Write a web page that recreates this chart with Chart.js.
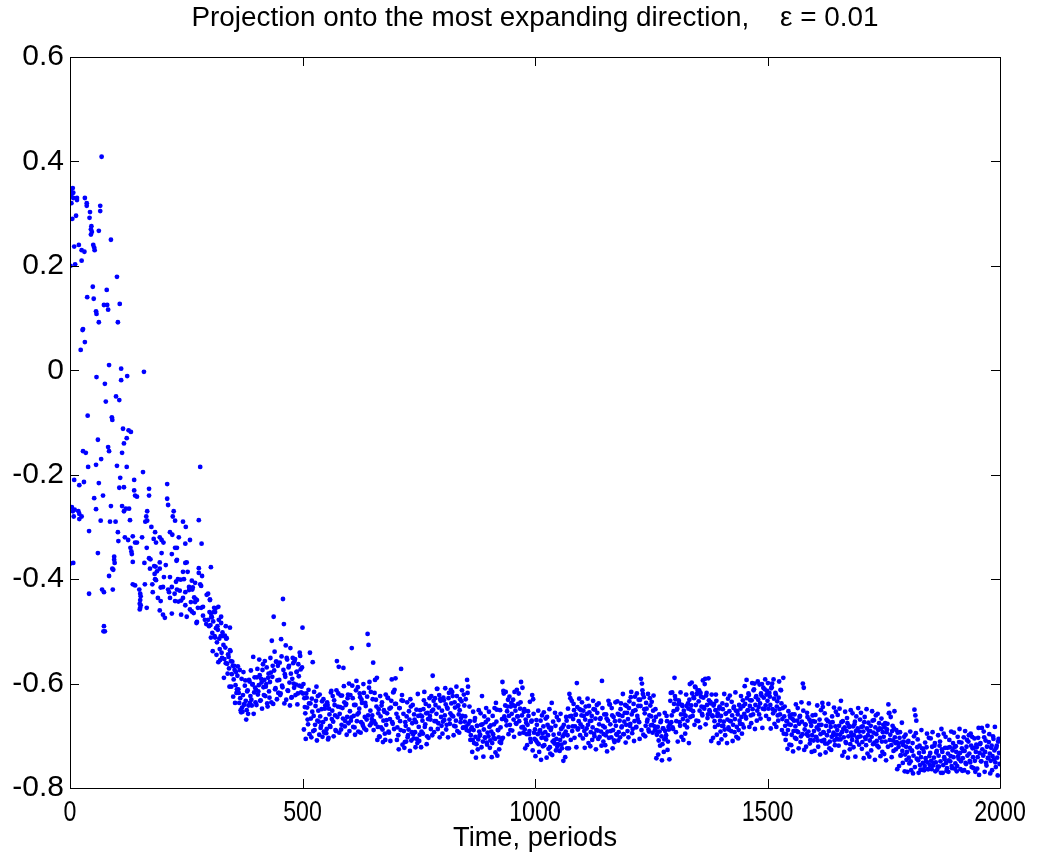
<!DOCTYPE html>
<html>
<head>
<meta charset="utf-8">
<script src="https://cdn.jsdelivr.net/npm/chart.js@4.4.1/dist/chart.umd.min.js"></script>
<style>
html,body{margin:0;padding:0;background:#fff;}
#wrap{width:1039px;height:861px;position:relative;}
</style>
</head>
<body>
<div id="wrap"><canvas id="c" width="1039" height="861"></canvas></div>
<script>
// ---- Data ----
const titleText = "Projection onto the most expanding direction,    \u03b5 = 0.01";
const xAxisLabel = "Time, periods";
const xTicks = [0, 500, 1000, 1500, 2000];
const yTicks = [-0.8, -0.6, -0.4, -0.2, 0, 0.2, 0.4, 0.6];

// early transient scatter: (time, value) pairs
const earlyT = [68,6,7,7,15,15,32,36,36,65,65,43,13,42,46,45,47,45,62,88,19,25,31,50,52,53,25,11,101,49,79,37,51,107,73,80,82,56,57,62,103,28,
1,2,3,5,1,9,1,4,6,8,9,
27,32,23,84,110,159,57,110,123,75,99,106,77,38,90,91,114,126,131,122,60,116,82,84,28,34,112,67,56,39,101,122,157,108,30,20,62,138,106,116,170,170,138,140,144,71,52,56,88,112,116,120,127,10,18,20,25,20,166,164,162,166,66,86,98,129,41,103,175,183,104,118,125,135,140,144,155,180,185,130,132,133,165,60,95,95,96,7,135,160,170,173,172,91,93,84,181,184,187,182,183,185,135,140,161,41,69,73,92,149,151,152,151,150,152,151,150,165,177,178,189,73,72,75,
280,209,209,211,223,221,226,243,249,277,193,201,197,215,220,234,258,248,283,226,230,197,219,229,230,248,251,193,206,303,277,193,243,253,277,284,202,215,232,238,245,262,269,280,282,228,200,195,219,256,264,263,230,236,225,248,256,211,213,215,267,273,270,294,297,301,226,233,239,260,269,195,243,248,258,262,266,275,286,282,319,193,200,204,219,239,251,273,272,286,290,293,297,299,303,312,325,335,344];
const earlyY = [0.409,0.349,0.34,0.33,0.33,0.326,0.33,0.32,0.315,0.315,0.305,0.303,0.296,0.292,0.276,0.27,0.265,0.26,0.267,0.25,0.24,0.23,0.227,0.24,0.235,0.23,0.21,0.203,0.179,0.16,0.154,0.14,0.137,0.127,0.125,0.125,0.116,0.113,0.108,0.092,0.092,0.079,
0.345,0.335,0.32,0.29,0.2,0.237,-0.37,-0.262,-0.27,-0.28,-0.21,
0.077,0.054,0.039,0.01,0.003,-0.003,-0.013,-0.019,-0.011,-0.026,-0.05,-0.057,-0.06,-0.087,-0.09,-0.095,-0.112,-0.115,-0.118,-0.13,-0.133,-0.14,-0.147,-0.155,-0.155,-0.158,-0.158,-0.17,-0.181,-0.185,-0.183,-0.185,-0.195,-0.206,-0.214,-0.22,-0.216,-0.21,-0.225,-0.224,-0.227,-0.24,-0.23,-0.24,-0.242,-0.24,-0.245,-0.266,-0.26,-0.26,-0.27,-0.265,-0.265,-0.267,-0.27,-0.275,-0.28,-0.285,-0.27,-0.28,-0.29,-0.288,-0.288,-0.29,-0.29,-0.287,-0.308,-0.31,-0.3,-0.31,-0.327,-0.32,-0.325,-0.318,-0.33,-0.33,-0.32,-0.323,-0.33,-0.34,-0.347,-0.352,-0.34,-0.35,-0.357,-0.363,-0.369,-0.369,-0.367,-0.369,-0.36,-0.362,-0.38,-0.38,-0.382,-0.394,-0.375,-0.376,-0.385,-0.39,-0.4,-0.402,-0.41,-0.412,-0.41,-0.428,-0.42,-0.425,-0.42,-0.42,-0.428,-0.433,-0.44,-0.447,-0.45,-0.455,-0.458,-0.455,-0.41,-0.425,-0.436,-0.49,-0.5,-0.5,
-0.185,-0.218,-0.246,-0.258,-0.27,-0.28,-0.288,-0.29,-0.3,-0.287,-0.32,-0.33,-0.325,-0.31,-0.315,-0.32,-0.325,-0.332,-0.332,-0.34,-0.34,-0.35,-0.352,-0.365,-0.363,-0.369,-0.368,-0.368,-0.373,-0.377,-0.379,-0.38,-0.386,-0.386,-0.388,-0.394,-0.396,-0.396,-0.4,-0.401,-0.4,-0.403,-0.407,-0.41,-0.413,-0.405,-0.415,-0.416,-0.415,-0.415,-0.416,-0.42,-0.42,-0.422,-0.428,-0.425,-0.421,-0.42,-0.425,-0.436,-0.435,-0.44,-0.438,-0.43,-0.428,-0.44,-0.442,-0.443,-0.441,-0.444,-0.444,-0.442,-0.436,-0.45,-0.458,-0.462,-0.465,-0.455,-0.453,-0.455,-0.453,-0.46,-0.468,-0.474,-0.466,-0.468,-0.472,-0.482,-0.484,-0.47,-0.478,-0.486,-0.478,-0.49,-0.466,-0.463,-0.472,-0.49,-0.493];

// settled part, even periods: one value every lateStep periods from lateStart
const lateStart = 300;
const lateStep = 2;
const lateY = [
-0.463,-0.488,-0.472,-0.503,-0.481,-0.455,-0.512,-0.494,-0.521,-0.497,-0.478,-0.534,-0.509,-0.541,-0.502,-0.526,-0.553,-0.531,-0.514,-0.562,-0.544,-0.571,-0.536,-0.557,-0.582,
-0.566,-0.592,-0.574,-0.603,-0.618,-0.585,-0.611,-0.637,-0.628,-0.655,-0.646,-0.622,-0.641,-0.604,-0.633,-0.651,-0.613,-0.642,-0.596,-0.624,-0.631,-0.602,-0.549,-0.617,-0.608,
-0.612,-0.588,-0.621,-0.603,-0.584,-0.632,-0.598,-0.574,-0.607,-0.593,-0.624,-0.601,-0.638,-0.589,-0.615,-0.597,-0.579,-0.518,-0.566,-0.472,-0.539,-0.609,-0.558,-0.594,-0.618,
-0.593,-0.622,-0.515,-0.604,-0.438,-0.486,-0.582,-0.527,-0.551,-0.613,-0.569,-0.598,-0.532,-0.627,-0.591,-0.561,-0.608,-0.553,-0.602,-0.577,-0.619,-0.586,-0.541,-0.573,-0.606,
-0.493,-0.601,-0.628,-0.657,-0.619,-0.646,-0.678,-0.638,-0.541,-0.667,-0.629,-0.559,-0.662,-0.689,-0.643,-0.606,-0.671,-0.652,-0.698,-0.663,-0.681,-0.634,-0.674,-0.692,-0.648,
-0.668,-0.687,-0.641,-0.704,-0.659,-0.683,-0.614,-0.652,-0.673,-0.632,-0.661,-0.691,-0.557,-0.644,-0.568,-0.658,-0.623,-0.679,-0.647,-0.570,-0.636,-0.672,-0.639,-0.664,-0.621,
-0.600,-0.653,-0.671,-0.532,-0.628,-0.662,-0.684,-0.641,-0.595,-0.659,-0.692,-0.648,-0.626,-0.674,-0.637,-0.681,-0.618,-0.664,-0.643,-0.669,-0.505,-0.526,-0.597,-0.652,-0.676,
-0.661,-0.560,-0.672,-0.593,-0.631,-0.589,-0.683,-0.649,-0.702,-0.663,-0.642,-0.688,-0.671,-0.654,-0.708,-0.679,-0.657,-0.628,-0.694,-0.668,-0.646,-0.592,-0.677,-0.616,-0.612,
-0.590,-0.658,-0.684,-0.699,-0.647,-0.672,-0.572,-0.622,-0.633,-0.691,-0.712,-0.681,-0.663,-0.703,-0.688,-0.669,-0.630,-0.709,-0.676,-0.697,-0.659,-0.693,-0.674,-0.706,-0.620,
-0.683,-0.698,-0.661,-0.692,-0.671,-0.649,-0.616,-0.678,-0.657,-0.701,-0.668,-0.643,-0.662,-0.687,-0.653,-0.585,-0.633,-0.672,-0.641,-0.658,-0.610,-0.676,-0.622,-0.630,-0.664,
-0.652,-0.673,-0.632,-0.661,-0.640,-0.679,-0.648,-0.628,-0.669,-0.657,-0.638,-0.616,-0.663,-0.681,-0.646,-0.671,-0.624,-0.643,-0.659,-0.651,-0.674,-0.634,-0.662,-0.684,-0.642,
-0.663,-0.682,-0.593,-0.606,-0.691,-0.672,-0.699,-0.684,-0.708,-0.689,-0.671,-0.702,-0.716,-0.681,-0.707,-0.692,-0.698,-0.679,-0.624,-0.711,-0.688,-0.703,-0.674,-0.713,-0.694,
-0.701,-0.683,-0.709,-0.692,-0.714,-0.697,-0.678,-0.706,-0.637,-0.650,-0.689,-0.703,-0.712,-0.684,-0.708,-0.597,-0.614,-0.663,-0.642,-0.671,-0.653,-0.631,-0.662,-0.679,-0.644,
-0.658,-0.641,-0.669,-0.616,-0.652,-0.677,-0.663,-0.639,-0.672,-0.648,-0.597,-0.661,-0.683,-0.654,-0.688,-0.669,-0.697,-0.679,-0.662,-0.691,-0.706,-0.673,-0.622,-0.630,-0.694,
-0.688,-0.709,-0.679,-0.697,-0.716,-0.691,-0.671,-0.704,-0.696,-0.682,-0.718,-0.693,-0.707,-0.664,-0.699,-0.684,-0.722,-0.689,-0.637,-0.711,-0.698,-0.715,-0.681,-0.706,-0.721,
-0.717,-0.696,-0.708,-0.687,-0.724,-0.701,-0.679,-0.713,-0.692,-0.671,-0.699,-0.683,-0.620,-0.628,-0.662,-0.691,-0.668,-0.651,-0.682,-0.659,-0.599,-0.688,-0.672,-0.649,-0.678,
-0.661,-0.683,-0.652,-0.691,-0.669,-0.698,-0.658,-0.679,-0.643,-0.672,-0.693,-0.662,-0.684,-0.649,-0.701,-0.667,-0.689,-0.656,-0.706,-0.678,-0.668,-0.692,-0.595,-0.681,-0.697,
-0.684,-0.699,-0.667,-0.692,-0.633,-0.640,-0.678,-0.703,-0.661,-0.689,-0.709,-0.672,-0.681,-0.698,-0.658,-0.693,-0.671,-0.649,-0.684,-0.662,-0.697,-0.673,-0.641,-0.679,-0.656,
-0.668,-0.647,-0.681,-0.626,-0.659,-0.687,-0.639,-0.672,-0.651,-0.683,-0.662,-0.643,-0.674,-0.631,-0.591,-0.600,-0.620,-0.626,-0.657,-0.681,-0.648,-0.669,-0.688,-0.661,-0.642,
-0.663,-0.679,-0.652,-0.671,-0.689,-0.664,-0.698,-0.683,-0.709,-0.692,-0.674,-0.701,-0.716,-0.686,-0.707,-0.691,-0.699,-0.672,-0.711,-0.688,-0.678,-0.618,-0.661,-0.684,-0.653,
-0.589,-0.630,-0.672,-0.648,-0.640,-0.637,-0.681,-0.659,-0.641,-0.668,-0.652,-0.679,-0.662,-0.643,-0.671,-0.648,-0.631,-0.664,-0.642,-0.619,-0.653,-0.628,-0.606,-0.641,-0.620,
-0.613,-0.634,-0.652,-0.618,-0.644,-0.661,-0.627,-0.648,-0.591,-0.623,-0.641,-0.659,-0.632,-0.654,-0.638,-0.621,-0.663,-0.642,-0.672,-0.651,-0.633,-0.662,-0.679,-0.648,-0.671,
-0.662,-0.681,-0.649,-0.673,-0.688,-0.658,-0.641,-0.669,-0.684,-0.653,-0.672,-0.691,-0.661,-0.679,-0.644,-0.668,-0.652,-0.683,-0.659,-0.689,-0.671,-0.648,-0.664,-0.678,-0.643,
-0.658,-0.639,-0.667,-0.628,-0.651,-0.622,-0.643,-0.661,-0.632,-0.649,-0.613,-0.600,-0.641,-0.624,-0.652,-0.631,-0.659,-0.638,-0.619,-0.601,-0.648,-0.627,-0.611,-0.642,-0.621,
-0.633,-0.648,-0.618,-0.641,-0.609,-0.600,-0.657,-0.629,-0.652,-0.621,-0.644,-0.661,-0.627,-0.649,-0.612,-0.638,-0.668,-0.589,-0.663,-0.681,-0.697,-0.672,-0.689,-0.678,-0.661,
-0.679,-0.698,-0.668,-0.691,-0.659,-0.682,-0.706,-0.671,-0.693,-0.677,-0.662,-0.701,-0.673,-0.600,-0.608,-0.688,-0.679,-0.697,-0.664,-0.692,-0.669,-0.708,-0.681,-0.699,-0.672,
-0.691,-0.673,-0.702,-0.684,-0.709,-0.688,-0.669,-0.697,-0.679,-0.637,-0.693,-0.708,-0.715,-0.681,-0.699,-0.672,-0.691,-0.711,-0.683,-0.702,-0.674,-0.694,-0.709,-0.682,-0.698,
-0.689,-0.707,-0.681,-0.698,-0.633,-0.693,-0.672,-0.703,-0.684,-0.712,-0.691,-0.676,-0.701,-0.683,-0.716,-0.694,-0.708,-0.682,-0.699,-0.673,-0.691,-0.711,-0.686,-0.702,-0.692,
-0.701,-0.683,-0.712,-0.692,-0.674,-0.703,-0.718,-0.686,-0.699,-0.691,-0.709,-0.681,-0.702,-0.671,-0.694,-0.713,-0.684,-0.697,-0.719,-0.689,-0.676,-0.704,-0.687,-0.711,-0.693,
-0.702,-0.684,-0.711,-0.693,-0.677,-0.640,-0.656,-0.698,-0.718,-0.691,-0.709,-0.686,-0.703,-0.726,-0.712,-0.694,-0.721,-0.704,-0.738,-0.713,-0.729,-0.718,-0.702,-0.736,-0.721,
-0.731,-0.712,-0.742,-0.723,-0.749,-0.728,-0.714,-0.738,-0.650,-0.661,-0.671,-0.722,-0.747,-0.733,-0.756,-0.741,-0.724,-0.752,-0.731,-0.758,-0.743,-0.722,-0.751,-0.764,-0.739,
-0.733,-0.748,-0.721,-0.757,-0.742,-0.714,-0.751,-0.729,-0.759,-0.738,-0.719,-0.749,-0.687,-0.731,-0.756,-0.741,-0.723,-0.752,-0.762,-0.734,-0.747,-0.722,-0.739,-0.758,-0.728,
-0.741,-0.722,-0.753,-0.731,-0.758,-0.739,-0.712,-0.733,-0.749,-0.724,-0.743,-0.703,-0.729,-0.752,-0.721,-0.738,-0.711,-0.734,-0.751,-0.719,-0.702,-0.741,-0.723,-0.748,-0.731,
-0.722,-0.741,-0.685,-0.733,-0.714,-0.749,-0.726,-0.738,-0.703,-0.731,-0.752,-0.721,-0.743,-0.712,-0.734,-0.748,-0.719,-0.739,-0.706,-0.728,-0.751,-0.723,-0.742,-0.711,-0.733
];

// settled part, odd periods (the wider scatter around the band)
const lateStart2 = 301;
const lateY2 = [
-0.439,-0.512,-0.473,-0.538,-0.463,-0.509,-0.456,-0.545,-0.490,-0.559,-0.514,-0.555,-0.484,-0.551,-0.509,-0.589,-0.508,-0.561,-0.513,-0.581,-0.549,-0.606,-0.538,-0.606,-0.558,
-0.625,-0.566,-0.637,-0.578,-0.611,-0.567,-0.618,-0.574,-0.651,-0.591,-0.654,-0.578,-0.639,-0.594,-0.669,-0.615,-0.658,-0.593,-0.637,-0.575,-0.642,-0.601,-0.658,-0.588,-0.636,
-0.641,-0.572,-0.615,-0.554,-0.633,-0.591,-0.648,-0.563,-0.622,-0.557,-0.606,-0.569,-0.644,-0.581,-0.627,-0.551,-0.636,-0.587,-0.639,-0.575,-0.611,-0.558,-0.630,-0.566,-0.618,
-0.560,-0.619,-0.548,-0.607,-0.574,-0.638,-0.587,-0.631,-0.554,-0.614,-0.566,-0.642,-0.581,-0.626,-0.551,-0.600,-0.557,-0.622,-0.578,-0.640,-0.563,-0.604,-0.547,-0.617,-0.569,
-0.619,-0.688,-0.645,-0.706,-0.627,-0.669,-0.612,-0.697,-0.638,-0.703,-0.654,-0.691,-0.616,-0.679,-0.633,-0.709,-0.624,-0.673,-0.621,-0.685,-0.649,-0.702,-0.630,-0.694,-0.642,
-0.695,-0.636,-0.707,-0.648,-0.681,-0.617,-0.668,-0.624,-0.701,-0.641,-0.689,-0.613,-0.664,-0.619,-0.694,-0.645,-0.688,-0.623,-0.667,-0.605,-0.682,-0.641,-0.698,-0.628,-0.676,
-0.691,-0.622,-0.665,-0.604,-0.683,-0.641,-0.698,-0.613,-0.672,-0.607,-0.656,-0.619,-0.694,-0.631,-0.677,-0.601,-0.686,-0.637,-0.689,-0.625,-0.661,-0.608,-0.680,-0.616,-0.668,
-0.630,-0.689,-0.618,-0.677,-0.644,-0.708,-0.657,-0.701,-0.624,-0.684,-0.636,-0.712,-0.651,-0.696,-0.621,-0.670,-0.627,-0.692,-0.648,-0.710,-0.633,-0.674,-0.617,-0.687,-0.639,
-0.639,-0.708,-0.665,-0.726,-0.647,-0.689,-0.632,-0.717,-0.658,-0.723,-0.674,-0.711,-0.636,-0.699,-0.653,-0.729,-0.644,-0.693,-0.641,-0.705,-0.669,-0.722,-0.650,-0.714,-0.662,
-0.710,-0.651,-0.722,-0.663,-0.696,-0.632,-0.683,-0.639,-0.716,-0.656,-0.704,-0.628,-0.669,-0.624,-0.699,-0.650,-0.693,-0.628,-0.672,-0.610,-0.687,-0.646,-0.703,-0.633,-0.681,
-0.696,-0.627,-0.670,-0.609,-0.688,-0.646,-0.703,-0.618,-0.677,-0.612,-0.661,-0.624,-0.699,-0.636,-0.682,-0.606,-0.691,-0.642,-0.694,-0.630,-0.666,-0.613,-0.685,-0.621,-0.673,
-0.630,-0.689,-0.618,-0.677,-0.644,-0.708,-0.687,-0.731,-0.654,-0.714,-0.666,-0.742,-0.681,-0.726,-0.651,-0.700,-0.657,-0.722,-0.678,-0.740,-0.663,-0.704,-0.647,-0.717,-0.669,
-0.654,-0.723,-0.680,-0.741,-0.662,-0.704,-0.647,-0.732,-0.673,-0.738,-0.689,-0.726,-0.651,-0.714,-0.668,-0.704,-0.619,-0.668,-0.616,-0.680,-0.644,-0.697,-0.625,-0.689,-0.637,
-0.690,-0.631,-0.702,-0.643,-0.676,-0.612,-0.663,-0.619,-0.696,-0.636,-0.684,-0.608,-0.694,-0.649,-0.724,-0.675,-0.718,-0.653,-0.697,-0.635,-0.712,-0.671,-0.728,-0.658,-0.706,
-0.739,-0.670,-0.713,-0.652,-0.731,-0.689,-0.746,-0.661,-0.720,-0.655,-0.704,-0.667,-0.742,-0.679,-0.725,-0.649,-0.734,-0.685,-0.737,-0.673,-0.709,-0.656,-0.728,-0.664,-0.716,
-0.670,-0.729,-0.658,-0.717,-0.684,-0.748,-0.697,-0.741,-0.664,-0.724,-0.648,-0.724,-0.663,-0.708,-0.633,-0.682,-0.639,-0.704,-0.660,-0.722,-0.645,-0.686,-0.629,-0.699,-0.651,
-0.636,-0.705,-0.662,-0.723,-0.644,-0.686,-0.629,-0.714,-0.655,-0.720,-0.671,-0.708,-0.633,-0.696,-0.650,-0.726,-0.641,-0.690,-0.638,-0.702,-0.666,-0.719,-0.647,-0.711,-0.659,
-0.718,-0.659,-0.730,-0.671,-0.704,-0.640,-0.691,-0.647,-0.724,-0.664,-0.712,-0.636,-0.697,-0.634,-0.709,-0.660,-0.703,-0.638,-0.682,-0.620,-0.697,-0.656,-0.713,-0.643,-0.691,
-0.703,-0.634,-0.677,-0.616,-0.695,-0.653,-0.710,-0.625,-0.684,-0.619,-0.668,-0.631,-0.706,-0.643,-0.689,-0.613,-0.698,-0.649,-0.701,-0.637,-0.673,-0.620,-0.692,-0.628,-0.680,
-0.635,-0.694,-0.623,-0.682,-0.649,-0.743,-0.692,-0.736,-0.659,-0.719,-0.671,-0.747,-0.686,-0.731,-0.656,-0.705,-0.662,-0.727,-0.683,-0.745,-0.633,-0.674,-0.617,-0.687,-0.639,
-0.624,-0.693,-0.650,-0.711,-0.632,-0.674,-0.617,-0.702,-0.643,-0.708,-0.659,-0.696,-0.621,-0.684,-0.638,-0.714,-0.601,-0.650,-0.598,-0.662,-0.626,-0.679,-0.607,-0.671,-0.619,
-0.672,-0.613,-0.684,-0.625,-0.658,-0.594,-0.645,-0.601,-0.678,-0.618,-0.666,-0.590,-0.651,-0.635,-0.710,-0.661,-0.704,-0.639,-0.683,-0.621,-0.698,-0.657,-0.714,-0.644,-0.692,
-0.707,-0.638,-0.681,-0.620,-0.699,-0.657,-0.714,-0.629,-0.688,-0.623,-0.672,-0.635,-0.710,-0.647,-0.693,-0.617,-0.702,-0.653,-0.705,-0.641,-0.677,-0.624,-0.696,-0.632,-0.684,
-0.605,-0.664,-0.593,-0.652,-0.619,-0.683,-0.632,-0.676,-0.599,-0.659,-0.611,-0.687,-0.626,-0.671,-0.596,-0.645,-0.602,-0.667,-0.623,-0.685,-0.608,-0.649,-0.592,-0.662,-0.614,
-0.599,-0.668,-0.625,-0.686,-0.607,-0.649,-0.592,-0.677,-0.618,-0.683,-0.634,-0.671,-0.596,-0.659,-0.613,-0.689,-0.647,-0.696,-0.644,-0.708,-0.672,-0.725,-0.653,-0.717,-0.665,
-0.718,-0.659,-0.730,-0.671,-0.704,-0.640,-0.691,-0.647,-0.724,-0.664,-0.712,-0.636,-0.697,-0.652,-0.727,-0.678,-0.721,-0.656,-0.700,-0.638,-0.715,-0.674,-0.731,-0.661,-0.709,
-0.729,-0.660,-0.703,-0.642,-0.721,-0.679,-0.736,-0.651,-0.710,-0.645,-0.694,-0.657,-0.732,-0.669,-0.715,-0.639,-0.724,-0.675,-0.727,-0.663,-0.699,-0.646,-0.718,-0.654,-0.706,
-0.660,-0.719,-0.648,-0.707,-0.674,-0.738,-0.687,-0.731,-0.654,-0.714,-0.666,-0.742,-0.681,-0.726,-0.651,-0.700,-0.657,-0.722,-0.678,-0.740,-0.663,-0.704,-0.647,-0.717,-0.669,
-0.656,-0.725,-0.682,-0.743,-0.664,-0.706,-0.649,-0.734,-0.675,-0.740,-0.691,-0.728,-0.653,-0.716,-0.670,-0.746,-0.661,-0.710,-0.658,-0.722,-0.686,-0.739,-0.667,-0.731,-0.679,
-0.735,-0.676,-0.747,-0.688,-0.721,-0.657,-0.708,-0.664,-0.741,-0.681,-0.729,-0.653,-0.714,-0.689,-0.764,-0.715,-0.758,-0.693,-0.737,-0.675,-0.752,-0.711,-0.768,-0.698,-0.746,
-0.769,-0.710,-0.753,-0.692,-0.766,-0.729,-0.772,-0.701,-0.760,-0.695,-0.744,-0.707,-0.771,-0.719,-0.765,-0.689,-0.765,-0.725,-0.766,-0.713,-0.749,-0.696,-0.764,-0.704,-0.756,
-0.705,-0.764,-0.693,-0.752,-0.719,-0.768,-0.732,-0.765,-0.699,-0.759,-0.711,-0.771,-0.726,-0.771,-0.696,-0.745,-0.702,-0.767,-0.723,-0.769,-0.708,-0.749,-0.692,-0.762,-0.714,
-0.694,-0.763,-0.720,-0.768,-0.702,-0.744,-0.687,-0.764,-0.713,-0.767,-0.729,-0.766,-0.691,-0.754,-0.708,-0.770,-0.699,-0.748,-0.696,-0.760,-0.724,-0.762,-0.705,-0.769,-0.717,
-0.763,-0.704,-0.775,-0.716,-0.749,-0.685,-0.736,-0.692,-0.769,-0.709,-0.757,-0.681,-0.742,-0.697,-0.772,-0.723,-0.766,-0.701,-0.745,-0.683,-0.760,-0.719,-0.776,-0.706,-0.754
];

// ---- build chart ----
const points = [];
for (let i = 0; i < earlyT.length; i++) points.push({x: earlyT[i], y: earlyY[i]});
for (let i = 0; i < lateY.length; i++) points.push({x: lateStart + i * lateStep, y: lateY[i]});
for (let i = 0; i < lateY2.length; i++) points.push({x: lateStart2 + i * lateStep, y: lateY2[i]});

const SANS = "'Liberation Sans', Arial, Helvetica, sans-serif";

// draw text horizontally compressed to a target width (narrow Helvetica look)
function fitText(ctx, text, cx, cy, size, targetW) {
  ctx.font = size + "px " + SANS;
  const w = ctx.measureText(text).width;
  const k = targetW ? targetW / w : 1;
  ctx.save();
  ctx.translate(cx, cy);
  ctx.scale(k, 1);
  ctx.textAlign = 'center';
  ctx.textBaseline = 'middle';
  ctx.fillText(text, 0, 0);
  ctx.restore();
}

const frame = {
  id: 'frame',
  afterDraw(chart) {
    const {ctx, chartArea: a, scales} = chart;
    const xs = scales.x, ys = scales.y;
    ctx.save();
    ctx.strokeStyle = '#000';
    ctx.lineWidth = 1;
    ctx.beginPath();
    ctx.rect(Math.round(a.left) + 0.5, Math.round(a.top) + 0.5, Math.round(a.right - a.left), Math.round(a.bottom - a.top));
    ctx.stroke();
    const tl = 9;
    ctx.beginPath();
    xTicks.forEach(v => {
      const p = Math.round(xs.getPixelForValue(v)) + 0.5;
      ctx.moveTo(p, a.bottom); ctx.lineTo(p, a.bottom - tl);
      ctx.moveTo(p, a.top); ctx.lineTo(p, a.top + tl);
    });
    yTicks.forEach(v => {
      const p = Math.round(ys.getPixelForValue(v)) + 0.5;
      ctx.moveTo(a.left, p); ctx.lineTo(a.left + tl, p);
      ctx.moveTo(a.right, p); ctx.lineTo(a.right - tl, p);
    });
    ctx.stroke();
    ctx.fillStyle = '#000';
    // x tick labels (narrow)
    xTicks.forEach(v => {
      const p = xs.getPixelForValue(v);
      const s = String(v);
      ctx.font = "29px " + SANS;
      const w = ctx.measureText(s).width;
      fitText(ctx, s, p, a.bottom + 25, 29, w * 0.8);
    });
    fitText(ctx, titleText, (a.left + a.right) / 2, 19, 27, 687);
    fitText(ctx, xAxisLabel, (a.left + a.right) / 2, 838, 28, 164);
    ctx.restore();
  }
};

new Chart(document.getElementById('c'), {
  type: 'scatter',
  data: {
    datasets: [{
      data: points,
      backgroundColor: '#0000ff',
      borderColor: '#0000ff',
      borderWidth: 0,
      pointRadius: 2.4,
      pointHoverRadius: 2.4,
      showLine: false
    }]
  },
  options: {
    responsive: false,
    animation: false,
    layout: {padding: {top: 57, left: 0, right: 39, bottom: 0}},
    plugins: {legend: {display: false}, tooltip: {enabled: false}, title: {display: false}},
    scales: {
      x: {
        type: 'linear', min: 0, max: 2000,
        afterBuildTicks: s => { s.ticks = xTicks.map(v => ({value: v})); },
        afterFit: s => { s.height = 73; },
        grid: {display: false, drawTicks: false},
        border: {display: false},
        ticks: {display: false}
      },
      y: {
        type: 'linear', min: -0.8, max: 0.6,
        afterBuildTicks: s => { s.ticks = yTicks.map(v => ({value: v})); },
        afterFit: s => { s.width = 70; },
        grid: {display: false, drawTicks: false},
        border: {display: false},
        ticks: {color: '#000', padding: 6, font: {family: SANS, size: 30}, callback: v => String(Math.round(v * 10) / 10)}
      }
    }
  },
  plugins: [frame]
});
</script>
</body>
</html>
